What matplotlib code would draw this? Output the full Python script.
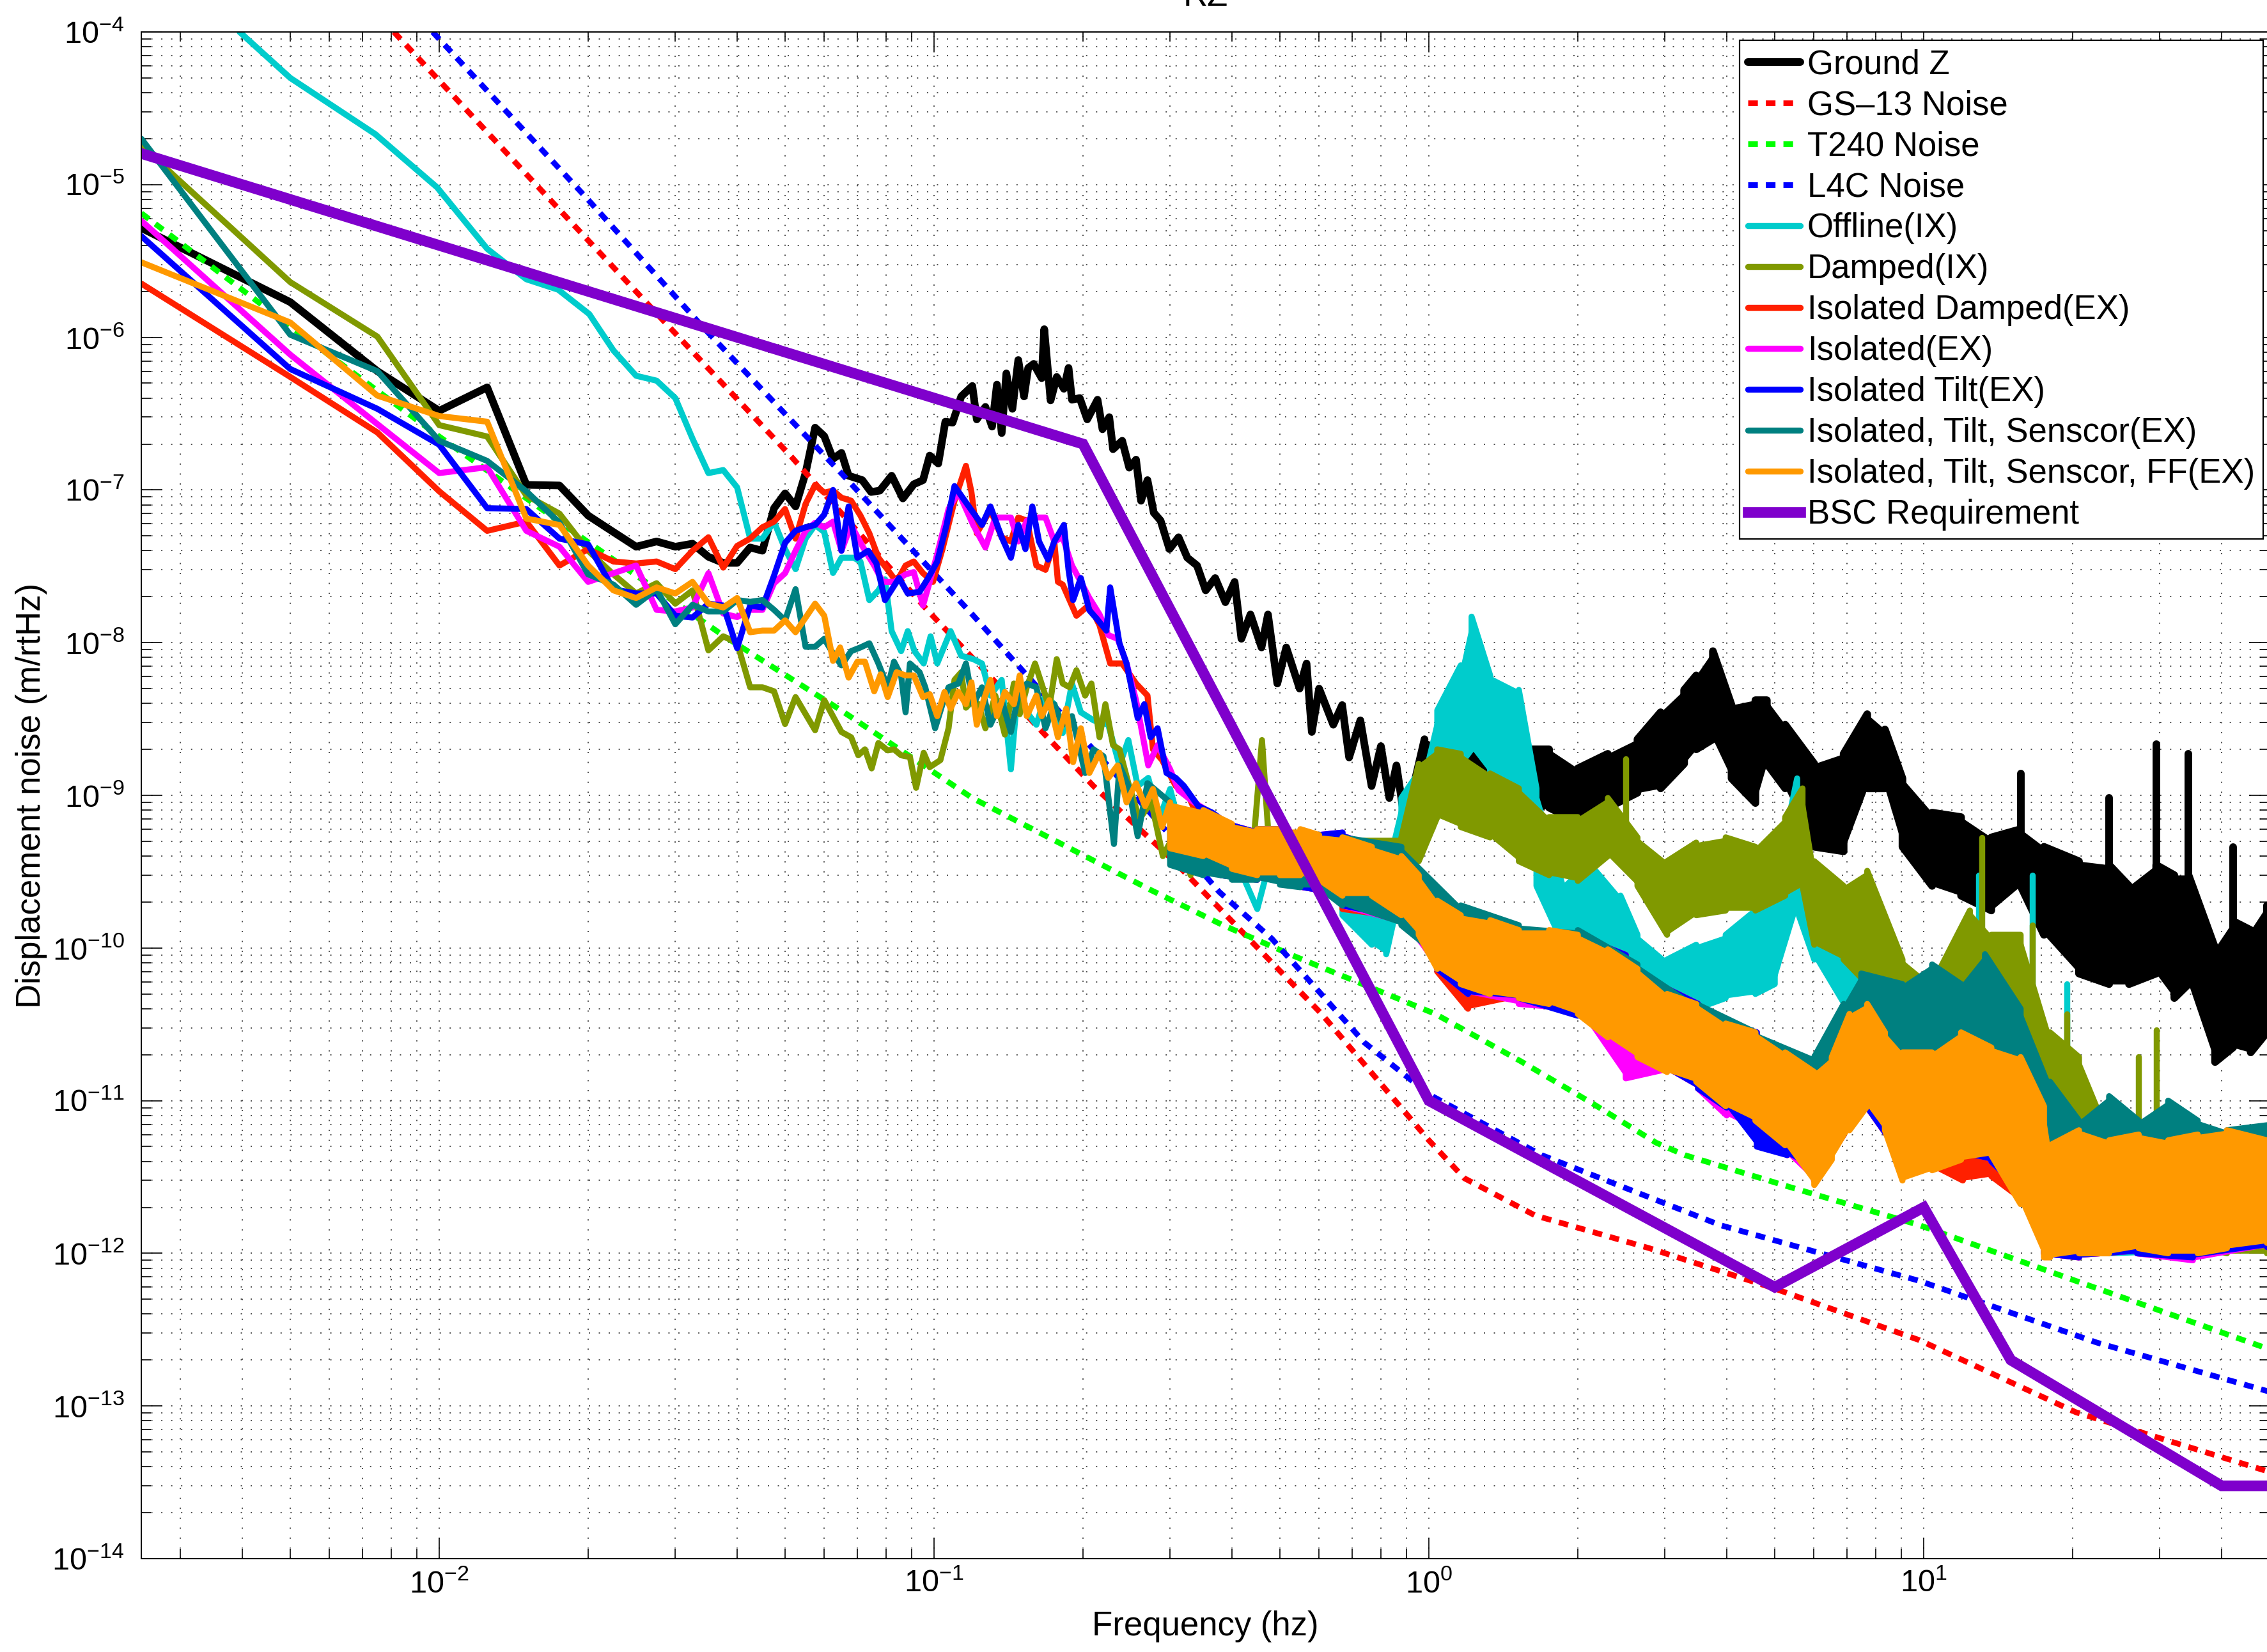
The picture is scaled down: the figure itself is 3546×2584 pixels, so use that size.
import numpy as np
import matplotlib
matplotlib.use("Agg")
import matplotlib.pyplot as plt
from matplotlib.ticker import LogLocator

plt.rcParams['font.family'] = ['Liberation Sans', 'DejaVu Sans']
plt.rcParams['axes.unicode_minus'] = False

# ---------------- data ----------------
# noise models
gs13_f = [0.0081, 0.0165, 0.0281, 0.0515, 0.097, 0.21, 0.303, 0.408, 0.607, 1.0, 1.18, 1.64, 2.79, 4.98, 9.8, 20.3, 50]
gs13_v = [1.0e-4, 8.4e-6, 1.33e-6, 1.65e-7, 1.63e-8, 1.15e-9, 3.8e-10, 1.4e-10, 3.7e-11, 5.5e-12, 3.1e-12, 1.77e-12, 1.08e-12, 5.9e-13, 2.7e-13, 9.1e-14, 3.7e-14]

t240_f = [0.0025, 0.005, 0.01, 0.0201, 0.0377, 0.0649, 0.1195, 0.274, 0.382, 0.532, 1.03, 1.53, 2.14, 2.88, 3.29, 5.4, 9.8, 20.3, 50]
t240_v = [6.5e-6, 1.18e-6, 2.24e-7, 4.5e-8, 1.1e-8, 3.6e-9, 9.6e-10, 2.4e-10, 1.42e-10, 8.9e-11, 3.7e-11, 1.82e-11, 9.6e-12, 5.3e-12, 4.4e-12, 2.7e-12, 1.53e-12, 6.6e-13, 2.35e-13]

l4c_f = [0.0097, 0.0197, 0.034, 0.0649, 0.1195, 0.313, 0.377, 0.4816, 0.741, 1.0, 1.69, 3.88, 9.8, 22.4, 50]
l4c_v = [1.0e-4, 8.4e-6, 1.18e-6, 1.29e-7, 1.53e-8, 4.7e-10, 2.33e-10, 1.15e-10, 2.4e-11, 1.1e-11, 4.4e-12, 1.53e-12, 6.6e-13, 2.6e-13, 1.24e-13]

bsc_f = [0.0025, 0.2, 1, 5, 10, 15, 40, 50]
bsc_v = [1.6e-5, 2e-7, 1e-11, 6e-13, 2e-12, 2e-13, 3e-14, 3e-14]

# Ground Z
gz_f = [0.0025, 0.005, 0.0075, 0.01, 0.0125, 0.015, 0.0175, 0.02, 0.0225, 0.025, 0.0275, 0.03, 0.0325,
        0.035, 0.0375, 0.04, 0.0425, 0.045, 0.0475, 0.05, 0.0525, 0.055, 0.0575, 0.06, 0.0625, 0.065,
        0.0672, 0.0716, 0.0746, 0.0777, 0.0821, 0.0865, 0.091, 0.095, 0.098, 0.102, 0.1054, 0.109, 0.1135,
        0.1195, 0.122, 0.127, 0.131, 0.134, 0.137, 0.140, 0.144, 0.148, 0.152, 0.155, 0.159, 0.165, 0.167,
        0.172, 0.177, 0.183, 0.187, 0.19, 0.197, 0.204, 0.214, 0.219, 0.226, 0.23, 0.24, 0.248, 0.256,
        0.262, 0.27, 0.278, 0.287, 0.299, 0.312, 0.325, 0.34, 0.354, 0.37, 0.388, 0.405, 0.418, 0.436,
        0.459, 0.473, 0.494, 0.515, 0.548, 0.566, 0.58, 0.60, 0.641, 0.668, 0.69, 0.727, 0.766, 0.80,
        0.832, 0.86, 0.895]
gz_v = [5.2e-6, 1.7e-6, 6.0e-7, 3.3e-7, 4.7e-7, 1.08e-7, 1.07e-7, 6.8e-8, 5.3e-8, 4.25e-8, 4.6e-8, 4.25e-8, 4.45e-8,
        3.65e-8, 3.33e-8, 3.33e-8, 4.2e-8, 4.0e-8, 7.6e-8, 9.5e-8, 7.8e-8, 1.29e-7, 2.56e-7, 2.25e-7, 1.6e-7, 1.75e-7,
        1.24e-7, 1.16e-7, 9.7e-8, 9.9e-8, 1.24e-7, 8.8e-8, 1.09e-7, 1.16e-7, 1.68e-7, 1.49e-7, 2.8e-7, 2.76e-7, 4.1e-7,
        4.8e-7, 2.9e-7, 3.5e-7, 2.6e-7, 4.9e-7, 2.36e-7, 5.8e-7, 3.4e-7, 7.1e-7, 4.1e-7, 6.3e-7, 6.7e-7, 5.4e-7, 1.13e-6,
        3.86e-7, 5.5e-7, 4.6e-7, 6.3e-7, 3.9e-7, 4.0e-7, 2.9e-7, 3.9e-7, 2.5e-7, 3.0e-7, 1.85e-7, 2.1e-7, 1.4e-7, 1.58e-7,
        8.5e-8, 1.16e-7, 7.1e-8, 6.3e-8, 4.1e-8, 4.9e-8, 3.6e-8, 3.2e-8, 2.2e-8, 2.65e-8, 1.84e-8, 2.5e-8, 1.06e-8, 1.53e-8,
        9.3e-9, 1.53e-8, 5.4e-9, 9.3e-9, 5.0e-9, 7.3e-9, 2.6e-9, 5.0e-9, 2.9e-9, 3.9e-9, 1.77e-9, 3.1e-9, 1.15e-9, 2.1e-9,
        9.6e-10, 1.57e-9, 6.6e-10]
gz_band_f = [0.98, 1.16, 1.33, 1.52, 1.75, 2.0, 2.3, 2.64, 2.94, 3.28, 3.47, 3.75, 4.09, 4.57, 4.82, 5.25, 6.01, 6.89,
             7.69, 8.35, 9.06, 10.4, 11.9, 13.7, 15.7, 17.5, 20.6, 23.7, 26.0, 29.5, 32.1, 34.3, 38.8, 42.2, 45.8, 49.4]
gz_band_hi = [2.33e-9, 1.87e-9, 1.87e-9, 2.0e-9, 2.0e-9, 1.5e-9, 1.87e-9, 2.33e-9, 3.5e-9, 4.9e-9, 6.1e-9, 8.8e-9, 3.9e-9,
              4.2e-9, 4.2e-9, 2.9e-9, 1.61e-9, 1.87e-9, 3.4e-9, 2.7e-9, 1.29e-9, 7.7e-10, 7.2e-10, 5.3e-10, 6.0e-10, 4.6e-10,
              3.7e-10, 3.5e-10, 2.55e-10, 3.5e-10, 3.0e-10, 3.0e-10, 1.0e-10, 1.5e-10, 1.31e-10, 1.9e-10]
gz_band_lo = [7.2e-10, 9.6e-10, 9.6e-10, 7.2e-10, 8.3e-10, 6.7e-10, 8.3e-10, 1.04e-9, 1.11e-9, 1.61e-9, 2.0e-9, 2.33e-9, 1.29e-9,
              8.9e-10, 1.61e-9, 1.11e-9, 4.6e-10, 4.3e-10, 1.11e-9, 1.11e-9, 4.6e-10, 2.55e-10, 2.2e-10, 1.76e-10, 2.55e-10, 1.22e-10,
              6.8e-11, 5.8e-11, 5.8e-11, 6.8e-11, 4.7e-11, 5.8e-11, 1.79e-11, 2.23e-11, 2.07e-11, 2.8e-11]
gz_spk_f = [15.7, 23.7, 29.5, 34.3, 42.2]
gz_spk_top = [1.39e-9, 9.6e-10, 2.17e-9, 1.87e-9, 4.6e-10]
gz_spk_base = [4e-10, 1.5e-10, 2e-10, 1.5e-10, 5e-11]

# Offline(IX)
off_f = [0.00395, 0.005, 0.00743, 0.0099, 0.0125, 0.015, 0.0174, 0.0201, 0.0225, 0.025, 0.0275, 0.03, 0.0325, 0.035,
         0.0375, 0.04, 0.0425, 0.045, 0.0475, 0.05, 0.0525, 0.055, 0.0575, 0.06, 0.0625, 0.065, 0.0688, 0.071, 0.074,
         0.0772, 0.0796, 0.0821, 0.0858, 0.0885, 0.0913, 0.0953, 0.0984, 0.1015, 0.108, 0.1135, 0.12, 0.125, 0.13, 0.137,
         0.143, 0.148, 0.154, 0.161, 0.168, 0.175, 0.182, 0.19, 0.198, 0.21, 0.225, 0.237, 0.247, 0.258, 0.271,
         0.285, 0.3, 0.32, 0.34, 0.36, 0.39, 0.42, 0.45, 0.48, 0.52, 0.56, 0.6, 0.63]
off_v = [1e-4, 5.0e-5, 2.14e-5, 9.6e-6, 3.8e-6, 2.4e-6, 2.05e-6, 1.42e-6, 8.2e-7, 5.6e-7, 5.2e-7, 4.0e-7, 2.17e-7, 1.29e-7,
         1.35e-7, 1.04e-7, 4.8e-8, 4.8e-8, 6.2e-8, 4.1e-8, 3.03e-8, 4.8e-8, 5.9e-8, 5.3e-8, 2.86e-8, 3.6e-8, 3.6e-8, 3.4e-8, 1.9e-8,
         2.2e-8, 2.6e-8, 1.19e-8, 8.8e-9, 1.19e-8, 8.8e-9, 7.3e-9, 1.1e-8, 7.3e-9, 1.19e-8, 8.2e-9, 7.8e-9, 7.3e-9, 4.5e-9, 5.7e-9,
         1.48e-9, 5.4e-9, 3.5e-9, 2.9e-9, 4.5e-9, 3.95e-9, 2.56e-9, 5.4e-9, 3.5e-9, 3.1e-9, 2.9e-9, 1.57e-9, 2.3e-9, 1.15e-9, 1.3e-9,
         7e-10, 1.1e-9, 5e-10, 8e-10, 4.5e-10, 6e-10, 3e-10, 1.8e-10, 4e-10, 3e-10, 5e-10, 2.5e-10, 4.5e-10]
off_band_f = [0.669, 0.767, 0.82, 0.88, 0.98, 1.04, 1.16, 1.22, 1.33, 1.52, 1.65, 1.89, 2.13, 2.44, 2.64, 3.03, 3.47,
              3.98, 4.57, 5.0, 5.55, 6.01, 6.89, 7.48, 9.06, 13.7, 23.7, 49.4]
off_band_hi = [5.7e-10, 4.6e-10, 3.7e-10, 9.6e-10, 1.61e-9, 3.6e-9, 7.1e-9, 1.48e-8, 6.1e-9, 4.9e-9, 1.11e-9, 2.55e-10, 3.7e-10,
               2.2e-10, 1.22e-10, 8.4e-11, 1.05e-10, 1.22e-10, 1.76e-10, 2.55e-10, 1.29e-9, 2.55e-10, 8.4e-11, 6.8e-11, 2.8e-11,
               2.8e-11, 5e-12, 5e-12]
off_band_lo = [1.64e-10, 1.05e-10, 9.1e-11, 2.55e-10, 5.3e-10, 7.2e-10, 1.61e-9, 2.0e-9, 1.39e-9, 1.11e-9, 2.55e-10, 9.8e-11,
               1.22e-10, 8.4e-11, 5.8e-11, 4.0e-11, 4.0e-11, 4.7e-11, 5.0e-11, 5.8e-11, 1.76e-10, 8.4e-11, 4.0e-11, 3.7e-11, 9.2e-12,
               4.4e-12, 1.0e-12, 1.1e-12]
off_spk_f = [12.9, 16.6, 19.5]
off_spk_top = [3.0e-10, 3.0e-10, 5.8e-11]
off_spk_base = [1e-11, 1e-11, 5e-12]

# Damped(IX)
dmp_f = [0.0025, 0.005, 0.0075, 0.01, 0.0125, 0.015, 0.0175, 0.02, 0.0225, 0.025, 0.0275, 0.03, 0.0325, 0.035, 0.0375,
         0.04, 0.0425, 0.045, 0.0475, 0.05, 0.0525, 0.0575, 0.06, 0.065, 0.068, 0.0703, 0.0725, 0.0748, 0.0772, 0.0806,
         0.083, 0.0858, 0.0894, 0.092, 0.0953, 0.098, 0.103, 0.107, 0.110, 0.1135, 0.116, 0.120, 0.123, 0.127, 0.133,
         0.139, 0.145, 0.149, 0.154, 0.160, 0.164, 0.171, 0.177, 0.182, 0.188, 0.194, 0.202, 0.208, 0.216, 0.222, 0.23,
         0.237, 0.247, 0.26, 0.275, 0.29, 0.31, 0.33, 0.35, 0.38, 0.41, 0.44, 0.46, 0.475, 0.5, 0.55, 0.6, 0.65]
dmp_v = [1.8e-5, 2.3e-6, 1.01e-6, 2.66e-7, 2.24e-7, 9.2e-8, 7.0e-8, 4.0e-8, 2.8e-8, 2.1e-8, 2.45e-8, 1.8e-8, 2.2e-8, 8.9e-9,
         1.1e-8, 1.0e-8, 5.1e-9, 5.1e-9, 4.8e-9, 2.93e-9, 4.4e-9, 2.67e-9, 4.2e-9, 2.6e-9, 2.4e-9, 1.83e-9, 2.0e-9, 1.5e-9,
         2.2e-9, 1.97e-9, 2.0e-9, 1.83e-9, 1.78e-9, 1.12e-9, 1.9e-9, 1.53e-9, 1.7e-9, 2.75e-9, 5.7e-9, 6.4e-9, 3.75e-9, 4.2e-9,
         3.95e-9, 2.75e-9, 4.5e-9, 2.5e-9, 5.4e-9, 3.4e-9, 5.1e-9, 7.3e-9, 5.7e-9, 3.75e-9, 7.8e-9, 5.4e-9, 5.1e-9, 6.6e-9,
         4.5e-9, 5.4e-9, 2.4e-9, 3.95e-9, 2.13e-9, 2.0e-9, 1.2e-9, 7e-10, 9e-10, 4e-10, 6e-10, 3e-10, 5e-10, 3.5e-10, 6e-10,
         4e-10, 2.3e-9, 5e-10, 4.5e-10, 3.5e-10, 4e-10, 3e-10]
dmp_band_f = [0.669, 0.88, 0.954, 1.04, 1.16, 1.33, 1.52, 1.75, 2.0, 2.3, 2.64, 3.03, 3.47, 3.98, 4.57, 5.25, 5.69,
              6.01, 6.89, 7.69, 9.06, 10.4, 12.4, 13.7, 15.7, 18.0, 20.6, 23.7, 31.2, 41.0, 49.4]
dmp_band_hi = [5.3e-10, 5.3e-10, 1.61e-9, 2.0e-9, 1.87e-9, 1.39e-9, 1.11e-9, 7.2e-10, 7.2e-10, 9.6e-10, 5.3e-10, 3.7e-10,
               4.9e-10, 5.3e-10, 4.6e-10, 7.2e-10, 1.11e-9, 3.7e-10, 2.55e-10, 3.2e-10, 8.4e-11, 5.8e-11, 1.76e-10, 1.22e-10,
               1.22e-10, 2.8e-11, 1.93e-11, 6.4e-12, 4.4e-12, 4.4e-12, 4.4e-12]
dmp_band_lo = [2.2e-10, 2.55e-10, 3.7e-10, 7.2e-10, 6.2e-10, 5.3e-10, 3.7e-10, 3.0e-10, 2.75e-10, 4.0e-10, 2.55e-10, 1.22e-10,
               1.64e-10, 1.76e-10, 1.76e-10, 2.2e-10, 2.55e-10, 1.05e-10, 8.4e-11, 5.8e-11, 2.8e-11, 1.93e-11, 4.0e-11, 2.8e-11,
               1.93e-11, 6.4e-12, 6.4e-12, 1.46e-12, 1.26e-12, 1.0e-12, 1.0e-12]
dmp_spk_f = [2.5, 13.1, 16.6, 19.5, 27.2, 29.5]
dmp_spk_top = [1.74e-9, 5.3e-10, 1.41e-10, 3.7e-11, 1.93e-11, 2.9e-11]
dmp_spk_base = [5e-10, 4e-11, 2e-11, 6e-12, 2e-12, 2e-12]

# Isolated Damped(EX)
isd_f = [0.0025, 0.005, 0.0075, 0.01, 0.0125, 0.015, 0.0175, 0.02, 0.0225, 0.025, 0.0275, 0.03, 0.0325, 0.035, 0.0375,
         0.04, 0.0425, 0.045, 0.0475, 0.05, 0.0525, 0.055, 0.0575, 0.06, 0.0625, 0.065, 0.068, 0.071, 0.074, 0.0772,
         0.0806, 0.084, 0.0876, 0.091, 0.095, 0.0995, 0.104, 0.110, 0.116, 0.119, 0.122, 0.130, 0.137, 0.143, 0.148,
         0.154, 0.161, 0.168, 0.175, 0.178, 0.182, 0.194, 0.206, 0.216, 0.227, 0.24, 0.256, 0.27, 0.277, 0.289, 0.308,
         0.325, 0.342]
isd_v = [2.25e-6, 5.5e-7, 2.38e-7, 9.8e-8, 5.4e-8, 6.2e-8, 3.2e-8, 4.1e-8, 3.4e-8, 3.3e-8, 3.4e-8, 3.03e-8, 4.0e-8, 4.9e-8,
         3.1e-8, 4.3e-8, 4.8e-8, 5.7e-8, 6.2e-8, 7.5e-8, 4.8e-8, 8.1e-8, 1.08e-7, 9.6e-8, 9.9e-8, 8.9e-8, 8.5e-8, 6.8e-8,
         5.2e-8, 3.6e-8, 3.0e-8, 2.5e-8, 3.2e-8, 3.4e-8, 2.85e-8, 2.5e-8, 4.1e-8, 8.5e-8, 1.44e-7, 9.7e-8, 5.2e-8, 7.4e-8,
         4.9e-8, 4.6e-8, 6.6e-8, 6.3e-8, 3.2e-8, 3.0e-8, 4.6e-8, 2.5e-8, 2.4e-8, 1.5e-8, 1.77e-8, 1.3e-8, 7.3e-9, 7.3e-9,
         5.4e-9, 4.5e-9, 2.0e-9, 1.7e-9, 1.15e-9, 1.03e-9, 7.1e-10]

# Isolated(EX)
iso_f = [0.0025, 0.005, 0.0075, 0.01, 0.0125, 0.015, 0.0175, 0.02, 0.0225, 0.025, 0.0275, 0.03, 0.0325, 0.035, 0.0375,
         0.04, 0.0425, 0.045, 0.0475, 0.05, 0.0525, 0.055, 0.0575, 0.06, 0.0625, 0.065, 0.068, 0.0716, 0.0757, 0.0788,
         0.083, 0.0876, 0.091, 0.095, 0.098, 0.1015, 0.107, 0.112, 0.12, 0.127, 0.133, 0.143, 0.148, 0.154, 0.161, 0.168,
         0.175, 0.182, 0.19, 0.198, 0.206, 0.216, 0.225, 0.235, 0.245, 0.256, 0.271, 0.283, 0.30, 0.312, 0.335]
iso_v = [5.8e-6, 7.7e-7, 2.7e-7, 1.29e-7, 1.41e-7, 5.4e-8, 4.25e-8, 2.5e-8, 2.85e-8, 3.2e-8, 1.64e-8, 1.6e-8, 1.7e-8, 2.85e-8,
         1.55e-8, 1.47e-8, 1.64e-8, 1.64e-8, 2.45e-8, 2.85e-8, 4.0e-8, 5.4e-8, 6.1e-8, 5.7e-8, 6.2e-8, 4.0e-8, 5.9e-8, 4.3e-8,
         3.2e-8, 2.5e-8, 2.5e-8, 2.8e-8, 2.9e-8, 1.75e-8, 2.5e-8, 3.8e-8, 7.5e-8, 9.7e-8, 5.9e-8, 4.2e-8, 6.6e-8, 6.6e-8, 4.6e-8,
         6.3e-8, 6.6e-8, 6.6e-8, 4.6e-8, 4.9e-8, 3.2e-8, 2.5e-8, 1.96e-8, 1.53e-8, 1.12e-8, 1.06e-8, 7.3e-9, 4.2e-9, 1.57e-9,
         2.13e-9, 1.48e-9, 1.08e-9, 9.0e-10]

# Isolated Tilt(EX)
tlt_f = [0.0025, 0.005, 0.0075, 0.01, 0.0125, 0.015, 0.0175, 0.02, 0.0225, 0.025, 0.0275, 0.03, 0.0325, 0.035, 0.0375,
         0.04, 0.0425, 0.045, 0.0475, 0.05, 0.0525, 0.055, 0.0575, 0.06, 0.0625, 0.065, 0.0672, 0.070, 0.0736, 0.0765,
         0.0796, 0.085, 0.0885, 0.0935, 0.0973, 0.1015, 0.106, 0.110, 0.116, 0.120, 0.125, 0.130, 0.137, 0.143, 0.148,
         0.153, 0.158, 0.163, 0.170, 0.175, 0.183, 0.187, 0.191, 0.198, 0.206, 0.213, 0.223, 0.227, 0.237, 0.245, 0.258,
         0.266, 0.274, 0.283, 0.295, 0.308, 0.32, 0.342, 0.365]
tlt_v = [4.6e-6, 6.2e-7, 3.4e-7, 1.98e-7, 7.6e-8, 7.5e-8, 4.8e-8, 4.4e-8, 2.23e-8, 2.1e-8, 2.1e-8, 1.5e-8, 1.46e-8, 1.8e-8,
         1.75e-8, 9.2e-9, 1.75e-8, 1.7e-8, 2.75e-8, 4.5e-8, 5.4e-8, 5.7e-8, 5.9e-8, 6.9e-8, 1.0e-7, 4.0e-8, 7.8e-8, 3.6e-8,
         4.0e-8, 3.3e-8, 1.9e-8, 2.65e-8, 2.1e-8, 2.15e-8, 2.65e-8, 3.4e-8, 5.9e-8, 1.06e-7, 8.3e-8, 7.1e-8, 5.9e-8, 7.8e-8,
         4.9e-8, 3.6e-8, 5.9e-8, 4.1e-8, 7.8e-8, 4.6e-8, 3.5e-8, 4.6e-8, 5.9e-8, 3.0e-8, 1.9e-8, 2.65e-8, 1.63e-8, 1.44e-8,
         1.2e-8, 2.3e-8, 9.9e-9, 7.3e-9, 3.2e-9, 3.95e-9, 2.4e-9, 2.75e-9, 1.4e-9, 1.3e-9, 1.15e-9, 8.5e-10, 7.7e-10]

# the three EX isolated curves share one band read-out grid above ~0.4 Hz
ex_band_f = [0.38, 0.45, 0.52, 0.6, 0.669, 0.88, 1.04, 1.2, 1.52, 2.0, 2.5, 3.0, 3.5, 4.0, 4.6, 5.3, 6.0, 6.9, 7.7,
             9.0, 10.4, 12.0, 13.7, 15.7, 17.5, 20.6, 27.0, 35.0, 49.4]
isd_band_hi = [7e-10, 6e-10, 6e-10, 5.5e-10, 5.5e-10, 4.3e-10, 2.1e-10, 1.6e-10, 1.3e-10, 1.2e-10, 9e-11, 5.5e-11, 4.3e-11,
               3.2e-11, 2.8e-11, 2.0e-11, 1.6e-11, 3.4e-11, 4.0e-11, 2.2e-11, 2.2e-11, 2.6e-11, 2.2e-11, 1.8e-11, 8e-12,
               6e-12, 6e-12, 6e-12, 6e-12]
isd_band_lo = [3e-10, 2.8e-10, 2.6e-10, 2.4e-10, 1.8e-10, 1.6e-10, 7e-11, 4.0e-11, 4.7e-11, 4.0e-11, 2.4e-11, 1.6e-11, 1.2e-11,
               9e-12, 5.5e-12, 4.4e-12, 3.5e-12, 6e-12, 9e-12, 4.4e-12, 3.8e-12, 3.0e-12, 3.2e-12, 2.3e-12, 1.0e-12,
               9.4e-13, 1.0e-12, 9.4e-13, 1.1e-12]
iso_band_hi = [7e-10, 6e-10, 6e-10, 5.5e-10, 5.7e-10, 4.3e-10, 2.0e-10, 1.6e-10, 1.3e-10, 1.2e-10, 9e-11, 5.5e-11, 4.3e-11,
               3.2e-11, 2.8e-11, 2.0e-11, 1.6e-11, 3.4e-11, 4.0e-11, 2.2e-11, 2.2e-11, 2.6e-11, 2.2e-11, 1.8e-11, 8e-12,
               6e-12, 6e-12, 6e-12, 6e-12]
iso_band_lo = [3e-10, 2.8e-10, 2.6e-10, 2.4e-10, 1.9e-10, 1.5e-10, 7.3e-11, 5.0e-11, 4.3e-11, 4.0e-11, 1.4e-11, 1.6e-11, 1.2e-11,
               8e-12, 6.4e-12, 4.4e-12, 3.0e-12, 6e-12, 9e-12, 4.4e-12, 3.8e-12, 4.4e-12, 4.0e-12, 2.6e-12, 1.0e-12,
               9.4e-13, 1.0e-12, 9e-13, 1.1e-12]
tlt_band_hi = [7e-10, 6e-10, 6e-10, 5.5e-10, 5.7e-10, 4.3e-10, 2.0e-10, 1.6e-10, 1.3e-10, 1.2e-10, 9e-11, 5.5e-11, 4.3e-11,
               3.2e-11, 2.8e-11, 2.0e-11, 1.6e-11, 3.4e-11, 4.0e-11, 2.2e-11, 2.2e-11, 2.6e-11, 2.2e-11, 1.8e-11, 8e-12,
               6e-12, 6e-12, 6e-12, 6e-12]
tlt_band_lo = [3e-10, 2.8e-10, 2.6e-10, 2.4e-10, 1.9e-10, 1.6e-10, 7.3e-11, 5.0e-11, 4.7e-11, 3.6e-11, 2.4e-11, 1.6e-11, 1.2e-11,
               9e-12, 5.0e-12, 4.4e-12, 3.5e-12, 6e-12, 9e-12, 4.4e-12, 3.8e-12, 4.4e-12, 4.0e-12, 2.6e-12, 1.0e-12,
               9.4e-13, 1.0e-12, 9.4e-13, 1.1e-12]

# Isolated, Tilt, Senscor(EX)
sns_f = [0.0025, 0.005, 0.0075, 0.01, 0.0125, 0.015, 0.0175, 0.02, 0.0225, 0.025, 0.0275, 0.03, 0.0325, 0.035, 0.0375,
         0.04, 0.0425, 0.045, 0.0475, 0.05, 0.0525, 0.055, 0.0575, 0.06, 0.0625, 0.065, 0.068, 0.071, 0.074, 0.0772,
         0.0806, 0.083, 0.0858, 0.0876, 0.0894, 0.0935, 0.096, 0.1005, 0.104, 0.107, 0.112, 0.116, 0.120, 0.125, 0.13,
         0.137, 0.143, 0.148, 0.154, 0.161, 0.168, 0.175, 0.182, 0.19, 0.202, 0.21, 0.22, 0.231, 0.237, 0.247, 0.258, 0.27]
sns_v = [2.0e-5, 1.04e-6, 6.0e-7, 2.1e-7, 1.55e-7, 9.8e-8, 6.1e-8, 2.8e-8, 2.4e-8, 1.77e-8, 2.24e-8, 1.32e-8, 1.77e-8, 1.6e-8,
         1.6e-8, 1.9e-8, 1.85e-8, 1.9e-8, 1.64e-8, 1.4e-8, 2.24e-8, 9.4e-9, 9.4e-9, 1.06e-8, 8.5e-9, 7.1e-9, 8.8e-9, 9.3e-9,
         9.9e-9, 7.3e-9, 5.1e-9, 7.5e-9, 6.1e-9, 3.5e-9, 7.3e-9, 6.4e-9, 5.1e-9, 2.75e-9, 3.95e-9, 5.1e-9, 5.4e-9, 7.3e-9,
         3.95e-9, 5.1e-9, 2.9e-9, 4.2e-9, 2.6e-9, 4.5e-9, 5.4e-9, 5.1e-9, 2.75e-9, 3.95e-9, 2.9e-9, 3.3e-9, 1.4e-9, 2.0e-9,
         1.8e-9, 4.8e-10, 1.57e-9, 1.15e-9, 5.4e-10, 1.2e-9]
sns_band_f = [0.30, 0.35, 0.40, 0.45, 0.50, 0.55, 0.60, 0.669, 0.88, 1.16, 1.52, 2.0, 2.64, 3.47, 4.57, 6.01, 6.89, 7.48,
              9.06, 10.4, 11.9, 13.3, 15.7, 18.0, 20.6, 23.7, 27.2, 31.2, 35.8, 41.0, 49.4]
sns_band_hi = [9e-10, 7e-10, 6e-10, 6e-10, 5.5e-10, 5.5e-10, 5.5e-10, 5.3e-10, 4.6e-10, 1.9e-10, 1.41e-10, 1.31e-10, 7.8e-11,
               4.3e-11, 2.8e-11, 1.93e-11, 4.3e-11, 6.8e-11, 5.8e-11, 7.8e-11, 5.8e-11, 9.1e-11, 4.0e-11, 1.33e-11, 7.4e-12,
               1.07e-11, 7.4e-12, 1.0e-11, 7.4e-12, 6.4e-12, 6.9e-12]
sns_band_lo = [3.5e-10, 3e-10, 2.8e-10, 2.8e-10, 2.6e-10, 2.5e-10, 2.5e-10, 1.9e-10, 1.41e-10, 6.8e-11, 5.8e-11, 4.7e-11, 2.8e-11,
               1.54e-11, 9.2e-12, 4.4e-12, 6.4e-12, 1.33e-11, 1.33e-11, 1.54e-11, 9.2e-12, 1.07e-11, 4.4e-12, 3.0e-12, 1.46e-12,
               2.1e-12, 1.69e-12, 2.4e-12, 1.46e-12, 1.46e-12, 1.26e-12]

# Isolated, Tilt, Senscor, FF(EX)
ff_f = [0.0025, 0.005, 0.0075, 0.01, 0.0125, 0.015, 0.0175, 0.02, 0.0225, 0.025, 0.0275, 0.03, 0.0325, 0.035, 0.0375,
        0.04, 0.0425, 0.045, 0.0475, 0.05, 0.0525, 0.0575, 0.06, 0.0625, 0.0646, 0.0672, 0.070, 0.0725, 0.0757, 0.078,
        0.0806, 0.084, 0.0876, 0.091, 0.095, 0.098, 0.1015, 0.105, 0.108, 0.112, 0.116, 0.119, 0.122, 0.126, 0.130,
        0.134, 0.139, 0.145, 0.149, 0.154, 0.161, 0.165, 0.171, 0.178, 0.185, 0.191, 0.198, 0.206, 0.216, 0.225, 0.235,
        0.245, 0.256, 0.267, 0.277, 0.289]
ff_v = [3.1e-6, 1.25e-6, 4.15e-7, 3.05e-7, 2.8e-7, 6.5e-8, 5.9e-8, 3.2e-8, 2.2e-8, 1.96e-8, 2.3e-8, 2.1e-8, 2.5e-8, 1.8e-8,
        1.7e-8, 1.96e-8, 1.17e-8, 1.2e-8, 1.2e-8, 1.4e-8, 1.17e-8, 1.8e-8, 1.5e-8, 7.6e-9, 9.3e-9, 5.9e-9, 7.5e-9, 7.5e-9,
        4.8e-9, 6.2e-9, 4.4e-9, 6.4e-9, 6.1e-9, 6.1e-9, 4.4e-9, 4.6e-9, 3.3e-9, 4.75e-9, 3.7e-9, 4.75e-9, 3.95e-9, 5.5e-9,
        2.9e-9, 4.2e-9, 5.7e-9, 3.3e-9, 4.75e-9, 3.95e-9, 6.1e-9, 3.3e-9, 4.5e-9, 3.3e-9, 4.2e-9, 2.4e-9, 3.7e-9, 1.65e-9,
        2.75e-9, 1.4e-9, 1.9e-9, 1.3e-9, 1.57e-9, 9.0e-10, 1.2e-9, 8.5e-10, 1.1e-9, 6.2e-10]
ff_band_f = [0.30, 0.35, 0.40, 0.45, 0.50, 0.55, 0.60, 0.669, 0.767, 0.88, 0.954, 1.04, 1.16, 1.33, 1.52, 1.75, 2.0,
             2.3, 2.64, 3.03, 3.47, 3.98, 4.57, 5.25, 6.01, 6.52, 7.08, 7.69, 8.35, 9.06, 10.4, 11.9, 13.7, 15.7, 17.5,
             18.0, 20.6, 23.7, 27.2, 31.2, 35.8, 41.0, 49.4]
ff_band_hi = [9e-10, 8e-10, 6.5e-10, 6e-10, 6e-10, 6e-10, 5.5e-10, 5.3e-10, 4.6e-10, 4.0e-10, 3.0e-10, 2.04e-10, 1.64e-10,
              1.52e-10, 1.31e-10, 1.31e-10, 1.22e-10, 9.8e-11, 7.3e-11, 5.0e-11, 4.3e-11, 3.2e-11, 2.8e-11, 2.07e-11, 1.54e-11,
              1.93e-11, 3.7e-11, 4.3e-11, 2.8e-11, 2.07e-11, 2.07e-11, 2.8e-11, 2.23e-11, 1.93e-11, 9.2e-12, 5.1e-12, 6.4e-12,
              5.5e-12, 6.0e-12, 5.5e-12, 6.0e-12, 6.4e-12, 5.5e-12]
ff_band_lo = [4.5e-10, 4e-10, 3.3e-10, 3e-10, 3e-10, 3e-10, 2.8e-10, 2.2e-10, 2.2e-10, 1.64e-10, 1.22e-10, 7.3e-11, 5.8e-11,
              5.0e-11, 4.7e-11, 4.3e-11, 3.7e-11, 2.6e-11, 1.93e-11, 1.54e-11, 1.33e-11, 9.2e-12, 7.4e-12, 5.1e-12, 2.8e-12,
              4.1e-12, 6.4e-12, 9.2e-12, 6.4e-12, 3.0e-12, 3.5e-12, 4.1e-12, 4.4e-12, 2.1e-12, 9.4e-13, 9.4e-13, 1.0e-12,
              1.0e-12, 1.08e-12, 1.0e-12, 1.0e-12, 1.08e-12, 1.17e-12]

# ---------------- figure ----------------
W, H, DPI = 3546, 2584, 200
fig = plt.figure(figsize=(W / DPI, H / DPI), dpi=DPI)
ax = fig.add_axes([221 / W, 1 - 2438 / H, 3329 / W, 2388 / H])
ax.set_xscale('log')
ax.set_yscale('log')

z = [2]  # each series is stacked over the previous one, like the original plot order


def draw(f, v, color, lw, label, band=None, spikes=None):
    z[0] += 1
    f, v = list(f), list(v)
    if band is not None:
        bf, blo, bhi = band
        ax.fill_between(bf, blo, bhi, color=color, lw=0, zorder=z[0])
        # trace the read band as a zig-zag so it joins the line
        for i, (ff, lo, hi) in enumerate(zip(bf, blo, bhi)):
            f += [ff, ff]
            v += [hi, lo] if i % 2 == 0 else [lo, hi]
    ax.plot(f, v, color=color, lw=lw, label=label, zorder=z[0],
            solid_joinstyle='round', solid_capstyle='round')
    if spikes is not None:
        sf, sb, st = spikes
        ax.vlines(sf, sb, st, color=color, lw=lw, zorder=z[0], capstyle='round')


def dashed(f, v, color, label):
    z[0] += 1
    ax.plot(f, v, color=color, lw=3.2, ls=(0, (1.7, 1.4)), label=label, zorder=z[0])


LW = 3.4
draw(gz_f, gz_v, 'black', 4.3, 'Ground Z', (gz_band_f, gz_band_lo, gz_band_hi),
     (gz_spk_f, gz_spk_base, gz_spk_top))
dashed(gs13_f, gs13_v, '#FF0000', 'GS\u201313 Noise')
dashed(t240_f, t240_v, '#00FF00', 'T240 Noise')
dashed(l4c_f, l4c_v, '#0000FF', 'L4C Noise')
draw(off_f, off_v, '#00CCCC', LW, 'Offline(IX)', (off_band_f, off_band_lo, off_band_hi),
     (off_spk_f, off_spk_base, off_spk_top))
draw(dmp_f, dmp_v, '#809900', LW, 'Damped(IX)', (dmp_band_f, dmp_band_lo, dmp_band_hi),
     (dmp_spk_f, dmp_spk_base, dmp_spk_top))
draw(isd_f, isd_v, '#FF2000', LW, 'Isolated Damped(EX)', (ex_band_f, isd_band_lo, isd_band_hi))
draw(iso_f, iso_v, '#FF00FF', LW, 'Isolated(EX)', (ex_band_f, iso_band_lo, iso_band_hi))
draw(tlt_f, tlt_v, '#0000FF', LW, 'Isolated Tilt(EX)', (ex_band_f, tlt_band_lo, tlt_band_hi))
draw(sns_f, sns_v, '#008080', LW, 'Isolated, Tilt, Senscor(EX)', (sns_band_f, sns_band_lo, sns_band_hi))
draw(ff_f, ff_v, '#FF9900', LW, 'Isolated, Tilt, Senscor, FF(EX)', (ff_band_f, ff_band_lo, ff_band_hi))
ax.plot(bsc_f, bsc_v, color='#7F00CC', lw=6.0, label='BSC Requirement', zorder=z[0] + 1,
        solid_joinstyle='miter')

ax.set_xlim(0.0025, 50)
ax.set_ylim(1e-14, 1e-4)

ax.xaxis.set_major_locator(LogLocator(base=10, numticks=100))
ax.yaxis.set_major_locator(LogLocator(base=10, numticks=100))
ax.xaxis.set_minor_locator(LogLocator(base=10, subs=np.arange(2, 10), numticks=100))
ax.yaxis.set_minor_locator(LogLocator(base=10, subs=np.arange(2, 10), numticks=100))

ax.tick_params(which='both', direction='in', top=True, right=True, width=0.6, color='black')
ax.tick_params(which='major', length=11.5)
ax.tick_params(which='minor', length=5.5)
ax.tick_params(axis='y', which='major', labelsize=17.5, pad=9.5)
ax.tick_params(axis='x', which='major', labelsize=17.5, pad=6)
for sp in ax.spines.values():
    sp.set_linewidth(0.7)
    sp.set_zorder(50)

ax.grid(True, which='both', ls=(0, (1, 7)), color='0.3', lw=0.7)
ax.set_axisbelow(True)

ax.set_xlabel('Frequency (hz)', fontsize=19)
ax.set_ylabel('Displacement noise (m/rtHz)', fontsize=19)
ax.xaxis.set_label_coords(0.5, -0.034)
ax.yaxis.set_label_coords(-0.0441, 0.5)

fig.text((221 + 3550) / 2 / W, 1 - 9 / H, 'RZ', ha='center', va='baseline', fontsize=19)

leg = ax.legend(loc='upper right', bbox_to_anchor=(3540 / W, 1 - 63 / H), bbox_transform=fig.transFigure,
                borderaxespad=0, fancybox=False, framealpha=1, edgecolor='black', fontsize=19,
                handlelength=1.55, handletextpad=0.2, borderpad=0.25, labelspacing=0.265)
leg.get_frame().set_linewidth(0.8)
leg.set_zorder(60)

fig.savefig('out.png', dpi=DPI)
